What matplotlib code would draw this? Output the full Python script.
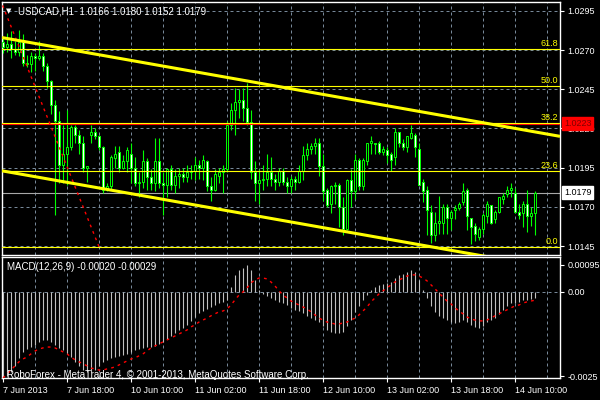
import numpy as np
import matplotlib
matplotlib.use("Agg")
import matplotlib.pyplot as plt

plt.rcParams['font.family'] = ['Liberation Sans', 'DejaVu Sans']

# USDCAD H1, one bar per hour from 7 Jun 02:00 (weekend skipped)
time_labels = ['7 Jun 2013', '7 Jun 18:00', '10 Jun 10:00', '11 Jun 02:00', '11 Jun 18:00',
               '12 Jun 10:00', '13 Jun 02:00', '13 Jun 18:00', '14 Jun 10:00']
label_bars = [0, 16, 32, 48, 64, 80, 96, 112, 128]
grid_bars = [8, 16, 24, 32, 40, 48, 56, 64, 72, 80, 88, 96, 104, 112, 120, 128, 136]

opens = [1.0275, 1.0272, 1.0274, 1.0271, 1.0269, 1.0275, 1.0262, 1.0261, 1.0266, 1.0265,
         1.0266, 1.0260, 1.0250, 1.0235, 1.0225, 1.0197, 1.0204, 1.0208, 1.0221, 1.0216,
         1.0211, 1.0195, 1.0216, 1.0218, 1.0215, 1.0208, 1.0181, 1.0183, 1.0201, 1.0205,
         1.0195, 1.0199, 1.0204, 1.0195, 1.0185, 1.0186, 1.0199, 1.0189, 1.0185, 1.0199,
         1.0185, 1.0184, 1.0194, 1.0184, 1.0190, 1.0191, 1.0189, 1.0192, 1.0193, 1.0197,
         1.0195, 1.0199, 1.0183, 1.0181, 1.0190, 1.0192, 1.0194, 1.0222, 1.0232, 1.0237,
         1.0238, 1.0233, 1.0224, 1.0192, 1.0185, 1.0187, 1.0188, 1.0192, 1.0188, 1.0186,
         1.0193, 1.0186, 1.0183, 1.0188, 1.0186, 1.0193, 1.0203, 1.0207, 1.0209, 1.0211,
         1.0196, 1.0181, 1.0172, 1.0183, 1.0184, 1.0170, 1.0156, 1.0187, 1.0180, 1.0200,
         1.0183, 1.0199, 1.0211, 1.0211, 1.0211, 1.0205, 1.0206, 1.0204, 1.0202, 1.0218,
         1.0211, 1.0208, 1.0214, 1.0216, 1.0207, 1.0186, 1.0181, 1.0167, 1.0152, 1.0160,
         1.0160, 1.0170, 1.0163, 1.0168, 1.0169, 1.0173, 1.0181, 1.0163, 1.0158, 1.0151,
         1.0156, 1.0164, 1.0171, 1.0162, 1.0167, 1.0175, 1.0178, 1.0181, 1.0179, 1.0167,
         1.0166, 1.0172, 1.0164, 1.0166]
highs = [1.0278, 1.0281, 1.0282, 1.0276, 1.0283, 1.0280, 1.0267, 1.0269, 1.0268, 1.0276,
         1.0268, 1.0262, 1.0251, 1.0238, 1.0231, 1.0222, 1.0232, 1.0222, 1.0222, 1.0219,
         1.0215, 1.0196, 1.0222, 1.0220, 1.0216, 1.0209, 1.0185, 1.0203, 1.0209, 1.0209,
         1.0203, 1.0208, 1.0211, 1.0202, 1.0192, 1.0206, 1.0201, 1.0194, 1.0214, 1.0214,
         1.0192, 1.0195, 1.0197, 1.0194, 1.0195, 1.0195, 1.0197, 1.0197, 1.0202, 1.0200,
         1.0203, 1.0200, 1.0189, 1.0194, 1.0195, 1.0197, 1.0225, 1.0236, 1.0246, 1.0245,
         1.0246, 1.0249, 1.0232, 1.0199, 1.0194, 1.0197, 1.0204, 1.0202, 1.0191, 1.0195,
         1.0195, 1.0189, 1.0190, 1.0190, 1.0197, 1.0209, 1.0211, 1.0211, 1.0214, 1.0214,
         1.0204, 1.0182, 1.0184, 1.0186, 1.0185, 1.0176, 1.0188, 1.0194, 1.0204, 1.0201,
         1.0201, 1.0211, 1.0215, 1.0211, 1.0212, 1.0209, 1.0208, 1.0205, 1.0220, 1.0218,
         1.0213, 1.0215, 1.0222, 1.0217, 1.0211, 1.0188, 1.0183, 1.0171, 1.0167, 1.0177,
         1.0172, 1.0172, 1.0168, 1.0171, 1.0173, 1.0185, 1.0182, 1.0163, 1.0160, 1.0157,
         1.0166, 1.0174, 1.0171, 1.0168, 1.0176, 1.0179, 1.0183, 1.0185, 1.0182, 1.0172,
         1.0174, 1.0181, 1.0170, 1.0180]
lows = [1.0268, 1.0269, 1.0265, 1.0267, 1.0266, 1.0260, 1.0259, 1.0256, 1.0257, 1.0264,
        1.0257, 1.0246, 1.0229, 1.0165, 1.0185, 1.0185, 1.0184, 1.0206, 1.0211, 1.0204,
        1.0192, 1.0186, 1.0211, 1.0213, 1.0206, 1.0179, 1.0180, 1.0181, 1.0195, 1.0192,
        1.0194, 1.0192, 1.0185, 1.0183, 1.0176, 1.0182, 1.0181, 1.0181, 1.0180, 1.0182,
        1.0165, 1.0176, 1.0181, 1.0179, 1.0182, 1.0186, 1.0186, 1.0188, 1.0187, 1.0188,
        1.0187, 1.0180, 1.0174, 1.0180, 1.0185, 1.0179, 1.0192, 1.0219, 1.0216, 1.0227,
        1.0225, 1.0222, 1.0188, 1.0174, 1.0172, 1.0181, 1.0183, 1.0183, 1.0181, 1.0183,
        1.0184, 1.0179, 1.0179, 1.0181, 1.0185, 1.0187, 1.0200, 1.0204, 1.0204, 1.0190,
        1.0174, 1.0170, 1.0166, 1.0172, 1.0157, 1.0152, 1.0155, 1.0170, 1.0175, 1.0181,
        1.0181, 1.0197, 1.0204, 1.0204, 1.0204, 1.0203, 1.0198, 1.0193, 1.0197, 1.0208,
        1.0206, 1.0205, 1.0213, 1.0202, 1.0184, 1.0173, 1.0152, 1.0147, 1.0148, 1.0153,
        1.0153, 1.0153, 1.0155, 1.0162, 1.0168, 1.0171, 1.0155, 1.0146, 1.0148, 1.0149,
        1.0153, 1.0160, 1.0159, 1.0160, 1.0166, 1.0172, 1.0176, 1.0176, 1.0166, 1.0162,
        1.0157, 1.0154, 1.0158, 1.0152]
closes = [1.0272, 1.0274, 1.0271, 1.0269, 1.0275, 1.0262, 1.0261, 1.0266, 1.0265, 1.0266,
          1.0260, 1.0250, 1.0235, 1.0225, 1.0197, 1.0204, 1.0208, 1.0221, 1.0216, 1.0211,
          1.0195, 1.0196, 1.0218, 1.0215, 1.0208, 1.0181, 1.0183, 1.0202, 1.0204, 1.0195,
          1.0199, 1.0206, 1.0195, 1.0185, 1.0186, 1.0199, 1.0189, 1.0185, 1.0199, 1.0185,
          1.0184, 1.0194, 1.0184, 1.0190, 1.0191, 1.0189, 1.0192, 1.0193, 1.0197, 1.0195,
          1.0200, 1.0183, 1.0181, 1.0191, 1.0192, 1.0194, 1.0222, 1.0232, 1.0237, 1.0238,
          1.0233, 1.0224, 1.0192, 1.0185, 1.0187, 1.0188, 1.0192, 1.0188, 1.0186, 1.0193,
          1.0186, 1.0183, 1.0188, 1.0186, 1.0193, 1.0203, 1.0207, 1.0209, 1.0211, 1.0196,
          1.0180, 1.0171, 1.0183, 1.0184, 1.0170, 1.0156, 1.0187, 1.0180, 1.0200, 1.0183,
          1.0200, 1.0211, 1.0212, 1.0210, 1.0205, 1.0207, 1.0203, 1.0200, 1.0218, 1.0211,
          1.0208, 1.0215, 1.0217, 1.0208, 1.0184, 1.0180, 1.0168, 1.0152, 1.0160, 1.0161,
          1.0170, 1.0163, 1.0167, 1.0169, 1.0172, 1.0180, 1.0164, 1.0157, 1.0153, 1.0156,
          1.0165, 1.0172, 1.0160, 1.0167, 1.0176, 1.0177, 1.0181, 1.0182, 1.0167, 1.0165,
          1.0172, 1.0164, 1.0166, 1.0179]

macd_main = [-0.00303, -0.00296, -0.00281, -0.00260, -0.00232, -0.00211, -0.00201, -0.00194, -0.00186, -0.00176,
             -0.00169, -0.00169, -0.00176, -0.00186, -0.00197, -0.00204, -0.00215, -0.00229, -0.00246, -0.00260,
             -0.00274, -0.00281, -0.00281, -0.00274, -0.00260, -0.00246, -0.00239, -0.00232, -0.00229, -0.00225,
             -0.00222, -0.00218, -0.00211, -0.00204, -0.00201, -0.00197, -0.00194, -0.00194, -0.00190, -0.00183,
             -0.00176, -0.00165, -0.00155, -0.00144, -0.00134, -0.00127, -0.00116, -0.00102, -0.00088, -0.00074,
             -0.00067, -0.00060, -0.00053, -0.00046, -0.00039, -0.00035, -0.00028, 0.00018, 0.00060, 0.00077,
             0.00084, 0.00095, 0.00077, 0.00042, 0.00007, -0.00007, -0.00014, -0.00021, -0.00028, -0.00035,
             -0.00039, -0.00046, -0.00056, -0.00063, -0.00067, -0.00074, -0.00084, -0.00091, -0.00099, -0.00106,
             -0.00120, -0.00134, -0.00141, -0.00144, -0.00144, -0.00141, -0.00120, -0.00099, -0.00070, -0.00049,
             -0.00028, -0.00011, 0.00007, 0.00018, 0.00025, 0.00028, 0.00032, 0.00035, 0.00049, 0.00060,
             0.00063, 0.00070, 0.00077, 0.00070, 0.00042, 0.00007, -0.00021, -0.00049, -0.00070, -0.00084,
             -0.00091, -0.00099, -0.00106, -0.00109, -0.00106, -0.00099, -0.00106, -0.00116, -0.00123, -0.00127,
             -0.00120, -0.00106, -0.00099, -0.00091, -0.00077, -0.00063, -0.00049, -0.00039, -0.00039, -0.00035,
             -0.00028, -0.00028, -0.00025, -0.00020]
macd_signal = [-0.00303, -0.00289, -0.00275, -0.00260, -0.00246, -0.00236, -0.00229, -0.00218, -0.00208, -0.00201,
               -0.00197, -0.00194, -0.00194, -0.00197, -0.00204, -0.00211, -0.00218, -0.00229, -0.00239, -0.00246,
               -0.00253, -0.00260, -0.00268, -0.00271, -0.00275, -0.00275, -0.00271, -0.00268, -0.00264, -0.00257,
               -0.00250, -0.00243, -0.00236, -0.00232, -0.00225, -0.00218, -0.00208, -0.00197, -0.00190, -0.00183,
               -0.00176, -0.00169, -0.00162, -0.00155, -0.00148, -0.00141, -0.00134, -0.00123, -0.00116, -0.00106,
               -0.00099, -0.00092, -0.00084, -0.00077, -0.00070, -0.00067, -0.00060, -0.00046, -0.00028, -0.00011,
               0.00000, 0.00014, 0.00032, 0.00042, 0.00049, 0.00049, 0.00046, 0.00035, 0.00021, 0.00004,
               -0.00011, -0.00021, -0.00032, -0.00039, -0.00046, -0.00053, -0.00060, -0.00070, -0.00081, -0.00092,
               -0.00099, -0.00106, -0.00109, -0.00113, -0.00113, -0.00109, -0.00106, -0.00099, -0.00092, -0.00081,
               -0.00067, -0.00053, -0.00035, -0.00021, -0.00007, 0.00004, 0.00014, 0.00025, 0.00035, 0.00042,
               0.00049, 0.00056, 0.00060, 0.00060, 0.00056, 0.00049, 0.00039, 0.00025, 0.00011, -0.00004,
               -0.00018, -0.00032, -0.00042, -0.00056, -0.00067, -0.00077, -0.00088, -0.00095, -0.00099, -0.00102,
               -0.00102, -0.00099, -0.00092, -0.00084, -0.00077, -0.00070, -0.00063, -0.00056, -0.00049, -0.00046,
               -0.00039, -0.00035, -0.00032, -0.00029]

price_ticks = [1.0295, 1.0270, 1.0245, 1.0220, 1.0195, 1.0170, 1.0145]
fib_names = ['0.0', '23.6', '38.2', '50.0', '61.8']
fib_prices = [1.01446, 1.0193, 1.02238, 1.0247, 1.0271]
red_level = 1.0223
bid_price = 1.0179
chan_bars = [-0.25, 139.25]
chan_upper = [1.0278, 1.0215]
chan_lower = [1.0193, 1.0130]
fib_line_bars = [-8, 24]
fib_line_prices = [1.0349, 1.01446]

GREEN = '#00ff00'
GRID = '#778899'
FS = 6.5
W, H = 600, 400

fig = plt.figure(figsize=(6, 4), dpi=100, facecolor='black')


def px_axes(x0, y0, x1, y1):
    a = fig.add_axes([x0 / W, 1 - y1 / H, (x1 - x0) / W, (y1 - y0) / H])
    a.set_facecolor('black')
    for s in a.spines.values():
        s.set_color('white')
        s.set_linewidth(1)
    a.set_xlim(-0.25, 139.25)
    return a


ax = px_axes(2, 2, 560, 255)
ax2 = px_axes(2, 257, 560, 378)

# ---- main price window ----
ax.set_ylim(1.01393, 1.03007)
for p in price_ticks:
    ax.axhline(p, color=GRID, lw=0.72, ls=(0, (3, 3)), zorder=1)
for a in (ax, ax2):
    for b in grid_bars:
        a.axvline(b, color=GRID, lw=0.72, ls=(0, (3, 3)), zorder=1)

ax.axhline(bid_price, color='#a8a8a8', lw=0.8, zorder=2)

xs = np.arange(len(closes))
o = np.array(opens)
c = np.array(closes)
ax.vlines(xs, lows, highs, color=GREEN, lw=0.8, zorder=3)
ax.bar(xs, np.abs(c - o), bottom=np.minimum(o, c), width=0.55,
       color=['black' if cc >= oo else 'white' for oo, cc in zip(o, c)],
       edgecolor=GREEN, linewidth=0.7, zorder=4)

# objects
ax.axhline(red_level, color='red', lw=1.5, zorder=5)
for name, p in zip(fib_names, fib_prices):
    ax.axhline(p, color='yellow', lw=0.8, zorder=6)
    ax.text(138.8, p + 0.00005, name, color='yellow', fontsize=FS, ha='right', va='bottom', zorder=6)
ax.plot(fib_line_bars, fib_line_prices, color='red', lw=1, ls=(0, (2, 3)), zorder=6)
ax.plot(chan_bars, chan_upper, color='yellow', lw=2.2, zorder=6, solid_capstyle='butt')
ax.plot(chan_bars, chan_lower, color='yellow', lw=2.2, zorder=6, solid_capstyle='butt')

ax.yaxis.tick_right()
ax.set_yticks(price_ticks)
ax.set_yticklabels([f'{p:.4f}' for p in price_ticks])
ax.tick_params(axis='y', colors='white', labelsize=FS, length=3, width=0.8, pad=2.5)
ax.set_xticks([])

# price labels on the scale
yt = ax.get_yaxis_transform()
ax.text(1.007, red_level, '1.0223', transform=yt, color='#800000', fontsize=FS, va='center', ha='left',
        bbox=dict(boxstyle='square,pad=0.22', facecolor='red', edgecolor='red'), zorder=10, clip_on=False)
ax.text(1.007, bid_price, '1.0179', transform=yt, color='black', fontsize=FS, va='center', ha='left',
        bbox=dict(boxstyle='square,pad=0.22', facecolor='white', edgecolor='white'), zorder=10, clip_on=False)

fig.text(6 / W, 1 - 11 / H, '\u25bc', color='white', fontsize=5, va='center', ha='left', family='DejaVu Sans')
fig.text(18 / W, 1 - 11 / H, 'USDCAD,H1  1.0166 1.0180 1.0152 1.0179', color='white', fontsize=FS + 0.5,
         va='center')

# ---- MACD window ----
ax2.set_ylim(-0.00303, 0.00123)
ax2.axhline(0, color=GRID, lw=0.72, ls=(0, (3, 3)), zorder=1)
ax2.vlines(xs, 0, macd_main, color='#c0c0c0', lw=0.8, zorder=3)
ax2.plot(xs, macd_signal, color='red', lw=1, ls=(0, (2, 3)), zorder=4)

ax2.yaxis.tick_right()
ax2.set_yticks([0.00095, 0.0, -0.00296])
ax2.set_yticklabels(['0.00095', '0.00', '-0.0025'])
ax2.tick_params(axis='y', colors='white', labelsize=FS, length=3, width=0.8, pad=2.5)
ax2.set_xticks(label_bars)
ax2.set_xticklabels(time_labels)
ax2.tick_params(axis='x', colors='white', labelsize=FS, length=3, width=0.8, pad=2.5)
for lab in ax2.get_xticklabels():
    lab.set_ha('left')

fig.text(7 / W, 1 - 267 / H, 'MACD(12,26,9) -0.00020 -0.00029', color='white', fontsize=FS + 0.5, va='center')
fig.text(7 / W, 1 - 375 / H, 'RoboForex - MetaTrader 4, \u00a9 2001-2013, MetaQuotes Software Corp.',
         color='white', fontsize=FS + 0.5, va='center')

fig.savefig('out.png', dpi=100, facecolor='black')
